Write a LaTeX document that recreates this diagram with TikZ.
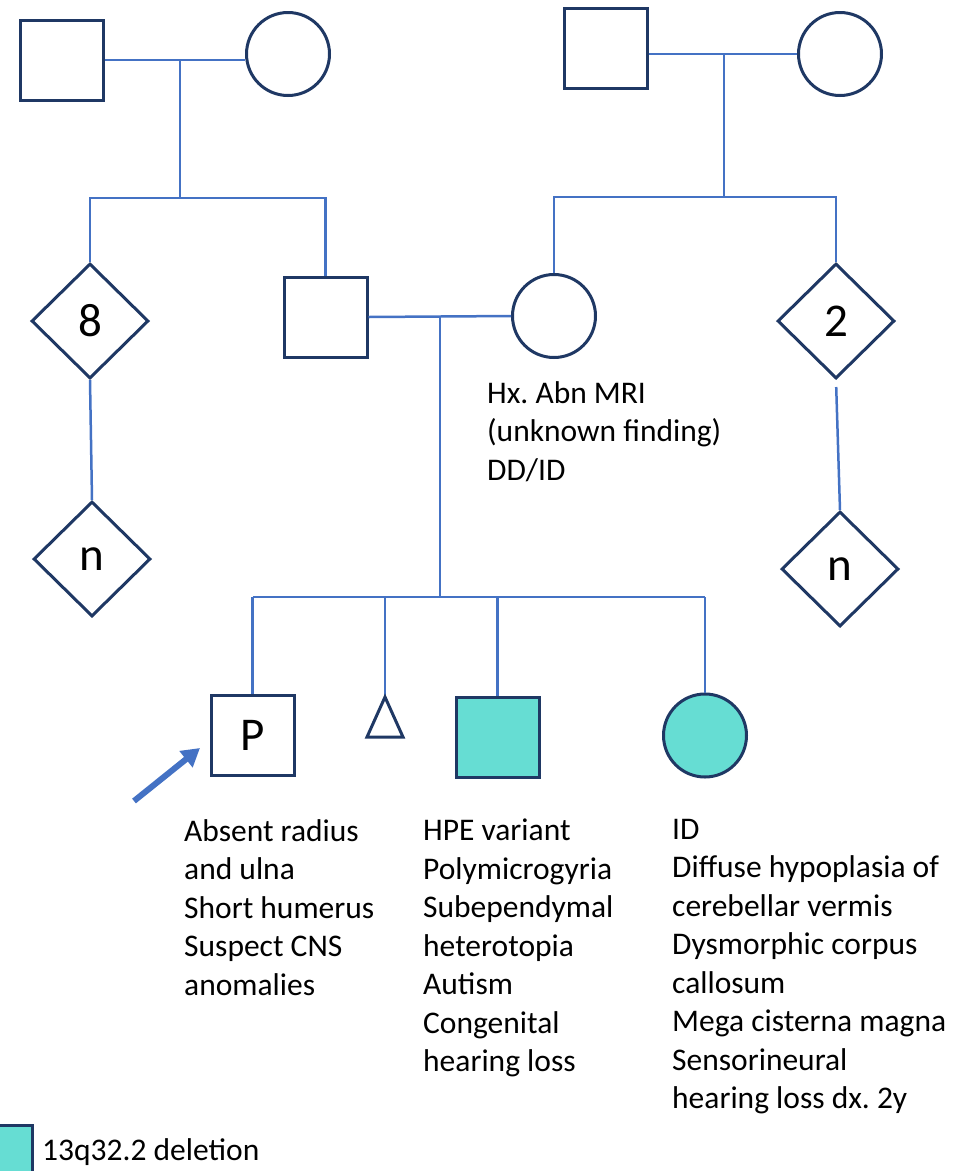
\documentclass[tikz,border=0pt]{standalone}
\usepackage{fontspec}
\setmainfont{Carlito}
\usetikzlibrary{shapes.geometric}
\usetikzlibrary{arrows.meta}
\definecolor{lineblue}{HTML}{4472C4}
\definecolor{navy}{HTML}{1F3864}
\definecolor{delfill}{HTML}{66DDD3}
\frenchspacing

\begin{document}
\begin{tikzpicture}[x=1pt,y=-1pt,
    male/.style={draw=navy,line width=3pt,rectangle,minimum width=83pt,minimum height=80pt,inner sep=0pt,font=\fontsize{47}{50}\selectfont},
    female/.style={draw=navy,line width=3pt,circle,minimum size=83pt,inner sep=0pt},
    sibs/.style={draw=navy,line width=3pt,diamond,minimum width=117pt,minimum height=115pt,inner sep=0pt,font=\fontsize{47}{50}\selectfont},
    affected/.style={fill=delfill},
    link/.style={lineblue,line width=2.5pt},
    note/.style={anchor=north west,align=left,inner sep=0pt,font=\fontsize{31.5}{38.5}\selectfont}]
  \useasboundingbox (0,0) rectangle (957,1171);
  % grandparents
  \node[male]   (gf1) at (62,60)  {};
  \node[female] (gm1) at (288,54) {};
  \node[male]   (gf2) at (605.5,48) {};
  \node[female] (gm2) at (840,54) {};
  % parents and their sibs
  \node[sibs]   (aunts)  at (90,321)    {8};
  \node[male]   (father) at (325.5,317) {};
  \node[female] (mother) at (554,316)   {};
  \node[sibs]   (uncles) at (836,321)   {2};
  % children
  \node[sibs] (cous1) at (92,559)  {n};
  \node[sibs] (cous2) at (840,569) {n};
  \node[male] (proband) at (252.5,735) {P};
  \coordinate (sab) at (385,697);
  \node[male,affected]   (bro) at (497.5,737) {};
  \node[female,affected] (sis) at (705,735.5) {};
  % lines of descent
  \coordinate (m1) at (180,60);  \coordinate (s1) at (180,198);
  \coordinate (m2) at (724,54);  \coordinate (s2) at (724,197);
  \coordinate (m3) at (440,317); \coordinate (s3) at (440,597);
  \draw[link] (gf1.east) -- (gf1.east -| gm1.west);
  \draw[link] (gf2.east |- gm2.west) -- (gm2.west);
  \draw[link] (father.east) -- (mother.west);
  \draw[link] (m1) -- (s1) (m2) -- (s2) (m3) -- (s3);
  \draw[link] (aunts.north) |- (s1) -| (father.north);
  \draw[link] (mother.north) |- (s2) -| (uncles.north);
  \draw[link] (proband.north |- s3) -- (sis.north |- s3);
  \foreach \c in {proband.north,sab,bro.north,sis.north}
    \draw[link] (\c) -- (\c |- s3);
  \draw[link] (aunts.south) -- (cous1.north);
  \draw[link,shorten <=7pt] (uncles.south) -- (cous2.north);
  % sab
  \draw[navy,line width=3pt] (sab) -- ++(-18,40) -- ++(36,0) -- cycle;
  % proband arrow
  \coordinate (ptr) at (134,801);
  \coordinate (ptrtip) at (200,748);
  \draw[lineblue,line width=6pt,-{Triangle[length=18pt,width=20pt]}] (ptr) -- (ptrtip);
  % findings
  \node[note] (mothernote) at (487,381) {Hx. Abn MRI\\(unknown finding)\\DD/ID};
  \node[note] (pnote) at (184,819) {Absent radius\\and ulna\\Short humerus\\Suspect CNS\\anomalies};
  \node[note] (bronote) at (423,819) {HPE variant\\Polymicrogyria\\Subependymal\\heterotopia\\Autism\\Congenital\\hearing loss};
  \node[note] (sisnote) at (672,819) {ID\\Diffuse hypoplasia of\\cerebellar vermis\\Dysmorphic corpus\\callosum\\Mega cisterna magna\\Sensorineural\\hearing loss dx. 2y};
  % key
  \node[draw=navy,fill=delfill,line width=3pt,minimum width=40pt,minimum height=50pt] (key) at (12,1150) {};
  \node[note] (keynote) at (42,1138) {13q32.2 deletion};
\end{tikzpicture}
\end{document}
